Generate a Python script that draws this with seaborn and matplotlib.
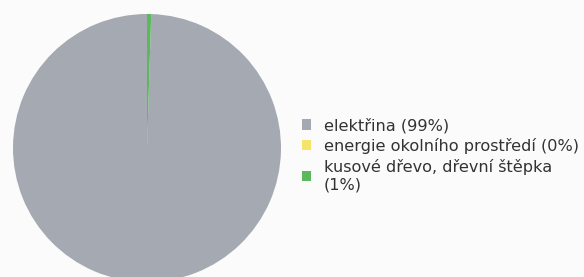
import matplotlib.pyplot as plt
import seaborn as sns

# energy sources (share of consumption, %)
sources = ["elektřina (99%)",
           "energie okolního prostředí (0%)",
           "kusové dřevo, dřevní štěpka\n(1%)"]
shares = [99.5, 0.0, 0.5]
colors = ["#a5a9b1", "#f4e46a", "#5cb85c"]

sns.set_theme(style="white")
plt.rcParams["font.family"] = ["DejaVu Sans"]

fig = plt.figure(figsize=(5.84, 2.77), dpi=100)
fig.patch.set_facecolor("#fbfbfb")

# pie axis, slightly clipped at the bottom like the original
ax = fig.add_axes([13 / 584, -5 / 277, 268 / 584, 268 / 277])
wedges, _ = ax.pie(shares, colors=colors, startangle=90, counterclock=True,
                   radius=1, wedgeprops={"linewidth": 0})
ax.set_xlim(-1, 1)
ax.set_ylim(-1, 1)
ax.set_aspect("equal")
ax.axis("off")

leg = fig.legend(wedges, sources, loc="center left",
                 bbox_to_anchor=(287 / 584, 1 - 155 / 277),
                 frameon=False, fontsize=11.6, handlelength=0.6,
                 handleheight=0.6, handletextpad=0.8, labelspacing=0.3)
for t in leg.get_texts():
    t.set_color("#333333")

fig.savefig("out.png", dpi=100, facecolor=fig.get_facecolor())
